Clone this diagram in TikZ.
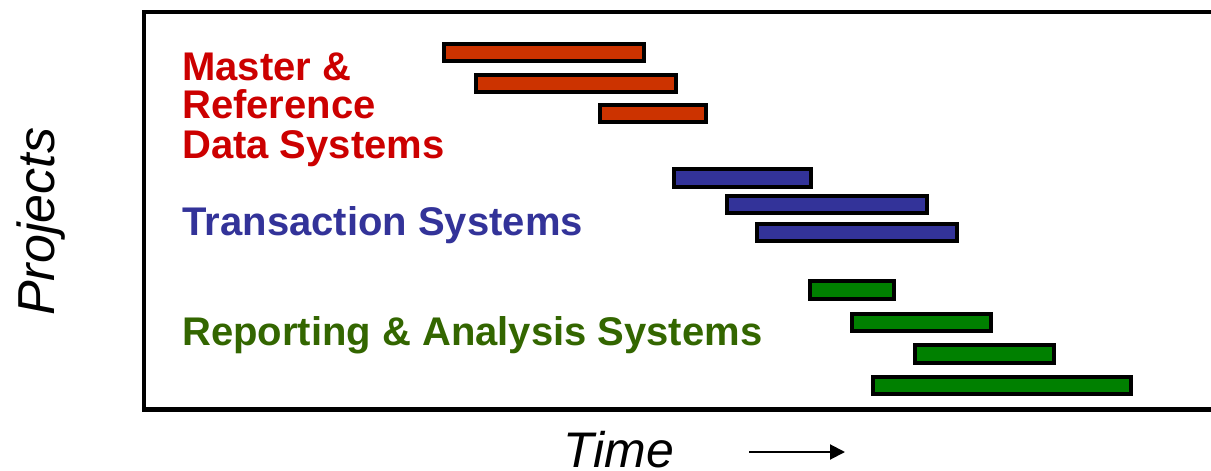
\documentclass[tikz,border=0pt]{standalone}
\usepackage{fontspec}
\setmainfont{Liberation Sans}
\usetikzlibrary{arrows.meta}
\definecolor{mred}{HTML}{CC0000}
\definecolor{mbarred}{HTML}{CC3300}
\definecolor{mblue}{HTML}{333399}
\definecolor{mgreen}{HTML}{336600}
\definecolor{mbargreen}{HTML}{008000}
\tikzset{
  bar/.style={draw=black, line width=4pt},
  grouplabel/.style={inner sep=0pt, anchor=base west, font=\fontsize{40}{40}\selectfont\bfseries},
  axislabel/.style={inner sep=0pt, anchor=base west, font=\fontsize{50}{50}\selectfont\itshape},
  frame/.style={draw=black, line width=4.5pt},
}
\begin{document}
\begin{tikzpicture}[x=1pt,y=-1pt]
\useasboundingbox (0,0) rectangle (1211,471);
\fill[white] (0,0) rectangle (1211,471);
\begin{scope}
\clip (0,0) rectangle (1211,471);
\draw[frame] (144,12) rectangle (1230,409.5);
\end{scope}
% red bars
\draw[bar, fill=mbarred] (444,44) rectangle (644,60.5);
\draw[bar, fill=mbarred] (476,75) rectangle (676,91.5);
\draw[bar, fill=mbarred] (600,105) rectangle (706,121.5);
% blue bars
\draw[bar, fill=mblue] (674,169) rectangle (811,186.5);
\draw[bar, fill=mblue] (727,195.5) rectangle (927,212.5);
\draw[bar, fill=mblue] (757,224) rectangle (957,241);
% green bars
\draw[bar, fill=mbargreen] (810,281) rectangle (894,298.5);
\draw[bar, fill=mbargreen] (852,314) rectangle (991,331);
\draw[bar, fill=mbargreen] (915,345) rectangle (1054,362.5);
\draw[bar, fill=mbargreen] (873,377) rectangle (1131,394);
% group labels
\node[grouplabel, text=mred] (m1) at (182,80) {Master \&};
\node[grouplabel, text=mred] (m2) at (182,118) {Reference};
\node[grouplabel, text=mred] (m3) at (182,158) {Data Systems};
\node[grouplabel, text=mblue] (tr) at (182.5,235) {Transaction Systems};
\node[grouplabel, text=mgreen] (rp) at (182,345) {Reporting \& Analysis Systems};
% axis labels
\node[axislabel, rotate=90, font=\fontsize{52}{52}\selectfont\itshape] (proj) at (54,316) {Projects};
\node[axislabel] (time) at (563,467) {Time};
\coordinate (a1) at (749,452);
\coordinate (a2) at (845,452);
\draw[line width=2pt, -{Triangle[length=15pt,width=15pt]}] (a1) -- (a2);
\end{tikzpicture}
\end{document}
